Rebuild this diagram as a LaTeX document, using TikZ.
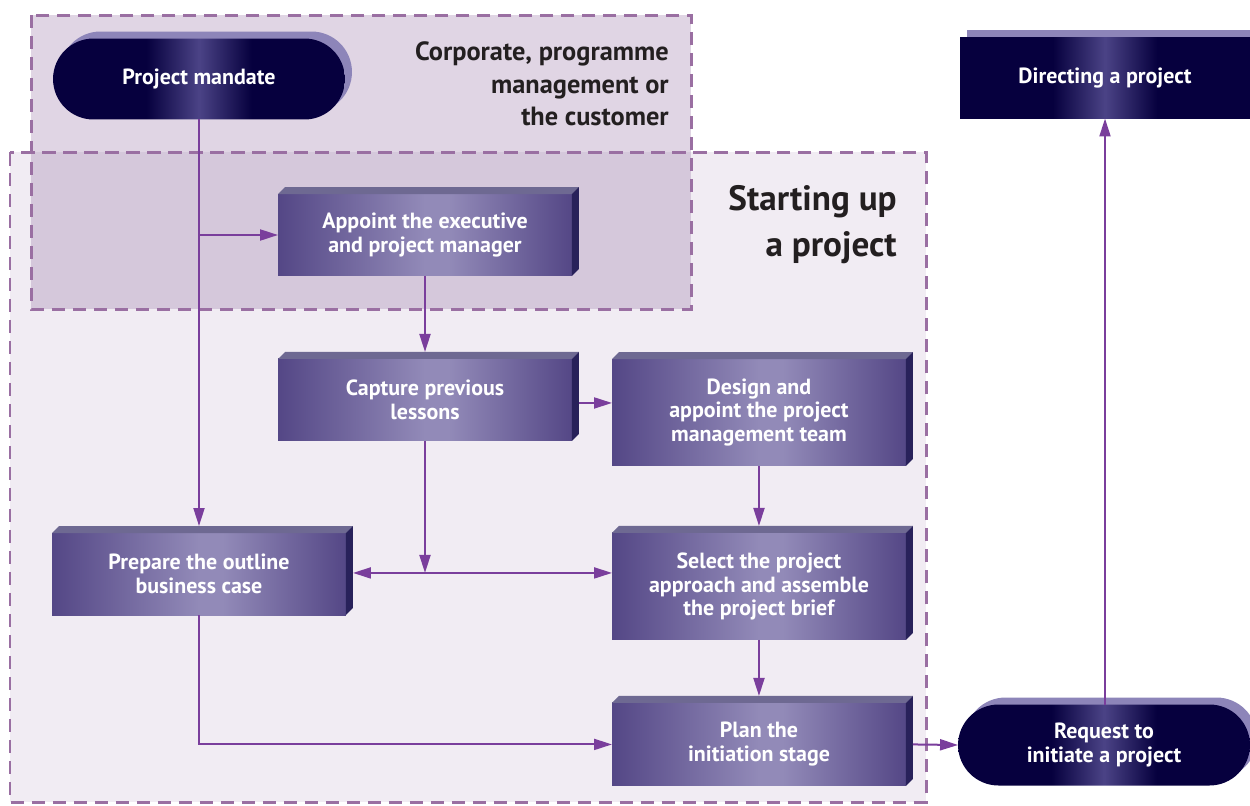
\documentclass[tikz,border=0pt]{standalone}
\usepackage{fontspec}
\setsansfont{PT Sans}
\usetikzlibrary{positioning,shapes.misc,shadows,arrows.meta}

\definecolor{corpfill}{HTML}{E0D5E4}
\definecolor{startfill}{HTML}{F1ECF3}
\definecolor{bothfill}{HTML}{D5C8DB}
\definecolor{dashline}{HTML}{9A6FA2}
\definecolor{navy}{HTML}{06003E}
\definecolor{navymid}{HTML}{4B4386}
\definecolor{pillshadow}{HTML}{8D85B9}
\definecolor{boxedge}{HTML}{544786}
\definecolor{boxmid}{HTML}{928AB8}
\definecolor{boxtop}{HTML}{6E6992}
\definecolor{boxside}{HTML}{28215A}
\definecolor{flowline}{HTML}{7A3E9C}
\definecolor{headtext}{HTML}{231F20}

\pgfdeclarehorizontalshading{navyshade}{100bp}{color(0bp)=(navy); color(41bp)=(navy); color(50bp)=(navymid); color(59bp)=(navy); color(100bp)=(navy)}
\pgfdeclarehorizontalshading{boxshade}{100bp}{color(0bp)=(boxedge); color(25bp)=(boxedge); color(50bp)=(boxmid); color(54bp)=(boxmid); color(75bp)=(boxedge); color(100bp)=(boxedge)}

\begin{document}
\begin{tikzpicture}[x=0.02cm, y=-0.02cm,
box text/.style={text=white, font=\sffamily\bfseries\fontsize{12.5}{13.6}\selectfont, align=center},
stepbox/.style={box text, shade, shading=boxshade, minimum width=5.88cm, minimum height=1.64cm, inner sep=0pt, outer sep=0pt},
pill/.style={box text, rounded rectangle, shade, shading=navyshade, minimum width=5.84cm, minimum height=1.62cm, inner sep=0pt, outer sep=0pt,
  general shadow={fill=pillshadow, shadow xshift=0.14cm, shadow yshift=0.14cm}},
region/.style={draw=dashline, line width=0.06cm, dash pattern=on 0.27cm off 0.15cm},
flow/.style={draw=flowline, line width=0.04cm, -{Triangle[length=0.36cm,width=0.22cm]}},
head/.style={text=headtext, align=right, inner sep=0pt}]

\useasboundingbox (0,0) rectangle (1250,805);

% the two areas
\fill[startfill] (10,152) rectangle (926,802);
\fill[corpfill] (31,15) rectangle (691,309);
\fill[bothfill] (31,152) rectangle (691,309);
\draw[region] (10,152) rectangle (926,802);
\draw[region] (31,15) rectangle (691,309);

\node[head, anchor=north east, font=\sffamily\bfseries\fontsize{15}{18.7}\selectfont] (corplabel) at (669,41) {Corporate, programme\\management or\\the customer};
\node[head, anchor=north east, font=\sffamily\bfseries\fontsize{20}{26}\selectfont] (startlabel) at (897,185) {Starting up\\a project};

% outside the process
\node[pill] (mandate) at (199,79) {Project mandate};
\node[box text, shade, shading=navyshade, minimum width=5.8cm, minimum height=1.62cm, inner sep=0pt, outer sep=0pt,
  general shadow={fill=pillshadow, shadow xshift=0.14cm, shadow yshift=0.16cm}] (directing) at (1105,78) {Directing a project};
\node[pill] (request) at (1104,745) {Request to\\initiate a project};

% process steps
\node[stepbox] (appoint) at (425,235) {Appoint the executive\\and project manager};
\node[stepbox] (capture) [below=1.66cm of appoint] {Capture previous\\lessons};
\node[stepbox, minimum height=2.14cm, anchor=north west] (design) at (612,359) {Design and\\appoint the project\\management team};
\node[stepbox, minimum height=2.14cm] (select) [below=1.34cm of design] {Select the project\\approach and assemble\\the project brief};
\node[stepbox, minimum height=1.66cm] (plan) [below=1.26cm of select] {Plan the\\initiation stage};
\node[stepbox] (prepare) at (199,574) {Prepare the outline\\business case};

\foreach \n in {appoint,capture,design,select,plan,prepare}{
  \fill[boxtop] (\n.north west) -- ++(7,-7) -- ([shift={(7,-7)}]\n.north east) -- (\n.north east) -- cycle;
  \fill[boxside] (\n.north east) -- ++(7,-7) -- ([shift={(7,-7)}]\n.south east) -- (\n.south east) -- cycle;
}

% connectors
\coordinate (split) at (mandate.south |- appoint.west);
\coordinate[below=2.64cm of capture.south] (join);
\draw[flow, shorten >=0.14cm] (mandate.south) -- (prepare.north);
\draw[flow] (split) -- (appoint.west);
\draw[flow, shorten >=0.14cm] (appoint.south) -- (capture.north);
\draw[flow] ([shift={(7,3)}]capture.east) -- ([shift={(0,3)}]capture.east -| design.west);
\draw[flow] (capture.south) -- (join);
\draw[flow, shorten >=0.14cm] (join) -- (join -| prepare.east);
\draw[flow] (join) -- (join -| select.west);
\draw[flow, shorten >=0.14cm] (design.south) -- (select.north);
\draw[flow, shorten >=0.14cm] (select.south) -- (plan.north);
\draw[flow] (prepare.south) |- (plan.west);
\draw[flow] ([xshift=0.14cm]plan.east) -- (request.west);
\draw[flow] (request.north -| directing.south) -- (directing.south);
\end{tikzpicture}
\end{document}
